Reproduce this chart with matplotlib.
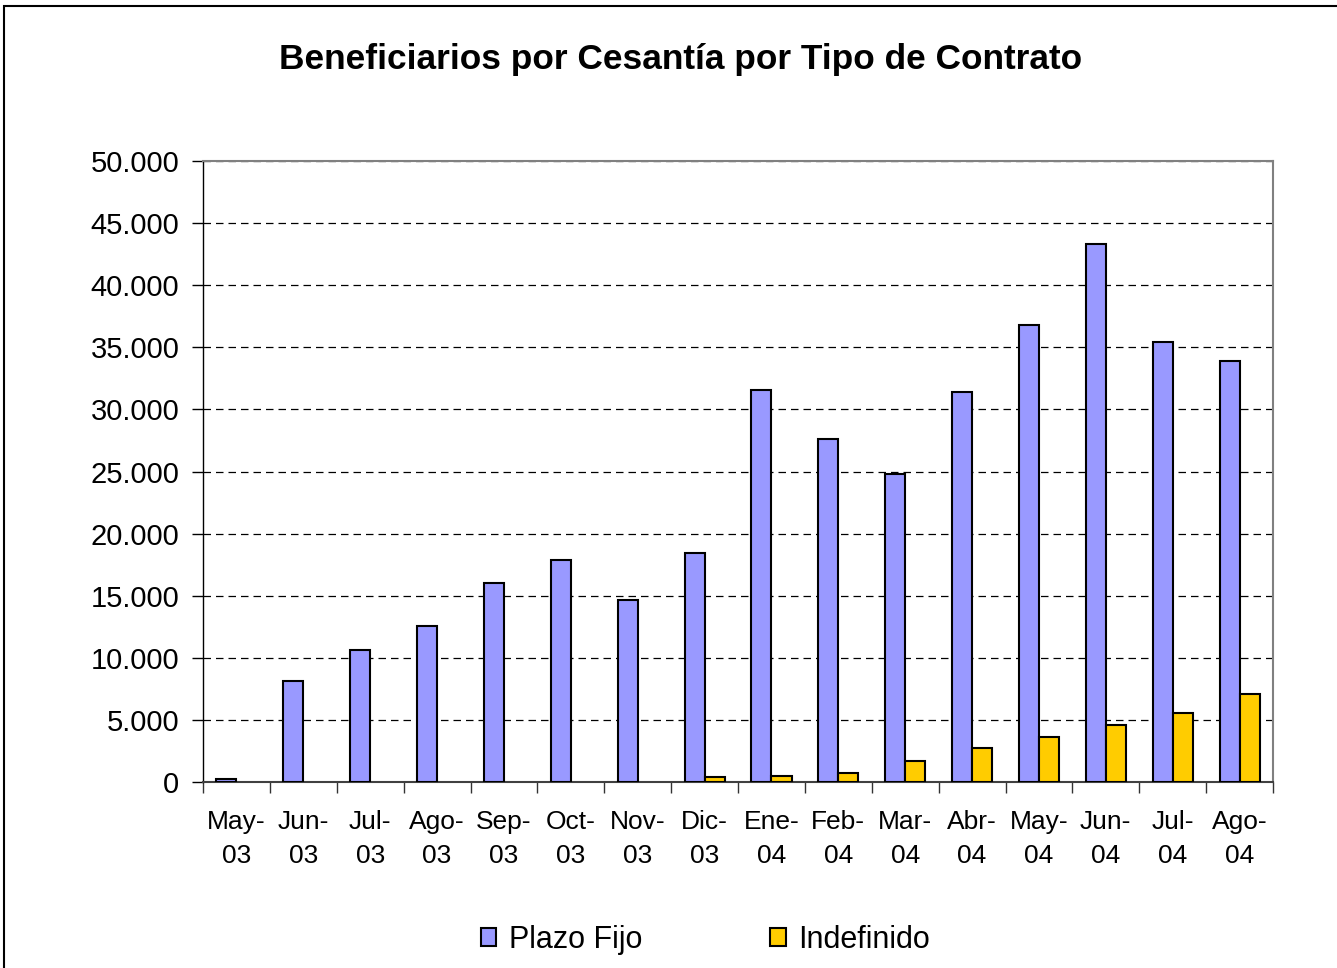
import matplotlib.pyplot as plt
from matplotlib.patches import Rectangle
from matplotlib.ticker import FuncFormatter, FixedLocator
import numpy as np

# Datos
meses = ["May-\n03", "Jun-\n03", "Jul-\n03", "Ago-\n03", "Sep-\n03", "Oct-\n03", "Nov-\n03", "Dic-\n03",
         "Ene-\n04", "Feb-\n04", "Mar-\n04", "Abr-\n04", "May-\n04", "Jun-\n04", "Jul-\n04", "Ago-\n04"]
plazo_fijo = [250, 8100, 10600, 12600, 16000, 17900, 14650, 18400,
              31600, 27600, 24800, 31400, 36800, 43300, 35400, 33900]
indefinido = [0, 0, 0, 0, 0, 0, 0, 380,
              500, 750, 1700, 2700, 3650, 4600, 5550, 7050]

plt.rcParams['font.family'] = ['Liberation Sans', 'DejaVu Sans']

fig = plt.figure(figsize=(13.37, 9.68), dpi=100)
fig.patch.set_facecolor('white')

# marco exterior
fig.patches.append(Rectangle((4 / 1337, -0.01), 1.2, 1 - 6 / 968 + 0.01, transform=fig.transFigure,
                             fill=False, edgecolor='black', linewidth=1.5))

ax = fig.add_axes([203 / 1337, 1 - 782 / 968, 1070 / 1337, 621 / 968])

x = np.arange(len(meses))
w = 0.3
# los valores cero no se dibujan (como en Excel)
pf = np.array(plazo_fijo, dtype=float)
ind = np.array(indefinido, dtype=float)
ax.bar(x - w / 2, np.where(pf > 0, pf, np.nan), width=w, color='#9999FF', edgecolor='black',
       linewidth=1.5, label='Plazo Fijo', zorder=3)
ax.bar(x + w / 2, np.where(ind > 0, ind, np.nan), width=w, color='#FFCC00', edgecolor='black',
       linewidth=1.5, label='Indefinido', zorder=3)

ax.set_xlim(-0.5, len(meses) - 0.5)
ax.set_ylim(0, 50000)
ax.set_yticks(np.arange(0, 50001, 5000))
ax.yaxis.set_major_formatter(FuncFormatter(lambda v, p: f"{int(v):,}".replace(",", ".")))
ax.yaxis.grid(True, color='black', linestyle=(0, (6, 4)), linewidth=0.9)
ax.set_axisbelow(True)

ax.xaxis.set_major_locator(FixedLocator(np.arange(-0.5, len(meses), 1.0)))
ax.xaxis.set_minor_locator(FixedLocator(x))
ax.set_xticklabels([], minor=False)
ax.set_xticklabels(meses, minor=True)
ax.tick_params(axis='x', which='major', length=8, width=1, direction='out', color='#333333')
ax.tick_params(axis='x', which='minor', length=0, pad=20, labelsize=19)
ax.tick_params(axis='y', length=8, width=1, direction='out', pad=9, labelsize=21)
for lab in ax.get_xticklabels(minor=True):
    lab.set_linespacing(1.55)

for s in ['top', 'right']:
    ax.spines[s].set_color('#808080')
    ax.spines[s].set_linewidth(1.5)
ax.spines['left'].set_color('black')
ax.spines['left'].set_linewidth(1)
ax.spines['bottom'].set_color('#404040')
ax.spines['bottom'].set_linewidth(1.5)

fig.text(0.509, 1 - 59 / 968, "Beneficiarios por Cesantía por Tipo de Contrato",
         ha='center', va='center', fontsize=25.4, fontweight='bold')

fig.legend(loc='center', bbox_to_anchor=(0.5275, 1 - 940 / 968), ncol=2, frameon=False,
           fontsize=22, handlelength=0.5, handleheight=0.5, handletextpad=0.4,
           columnspacing=4.2)

fig.savefig("out.png", dpi=100)
